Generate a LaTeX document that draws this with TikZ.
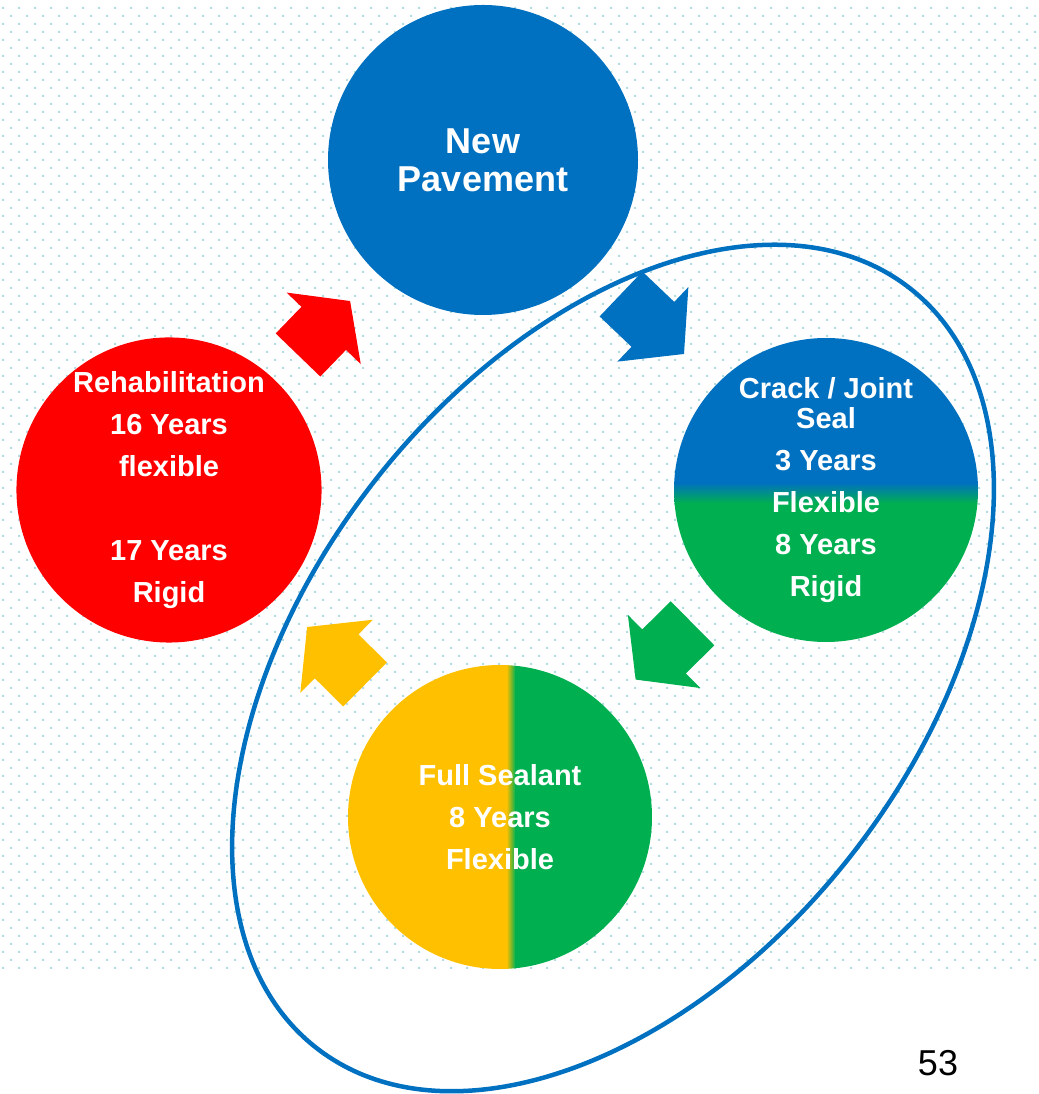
\documentclass[tikz,border=0pt]{standalone}
\usepackage{fontspec}
\setmainfont{Liberation Sans}
\usepackage{xcolor}
\definecolor{ppblue}{HTML}{0070C0}
\definecolor{ppred}{HTML}{FF0000}
\definecolor{ppgreen}{HTML}{00B050}
\definecolor{ppyellow}{HTML}{FFC000}
\definecolor{ppdot}{HTML}{B4DCE0}
\usetikzlibrary{positioning}
\tikzset{
  stage/.style  ={circle, inner sep=0pt, minimum size=304pt, text=white, align=center,
                  font=\bfseries\fontsize{29}{42}\selectfont},
  bigstage/.style={stage, minimum size=310pt, font=\bfseries\fontsize{36}{38}\selectfont},
  loopline/.style={draw=ppblue, line width=4.5pt},
}
\newcommand{\cycarrow}[5]{%
  \fill[#1, shift={#2}, rotate=#3] (0,-31) -- (#4,-31) -- (#4,-51.5) -- ({#4+#5},0)
    -- (#4,51.5) -- (#4,31) -- (0,31) -- cycle;}

\begin{document}
\begin{tikzpicture}[x=1pt, y=1pt]
  \useasboundingbox (0,0) rectangle (1038,1094);
  \fill[ppdot] \foreach \r in {0,...,60} {\foreach \c in {0,...,64} {({2+16*\c},{1085-16*\r}) rectangle ++(2,2)}};
  \fill[ppdot] \foreach \r in {0,...,59} {\foreach \c in {0,...,64} {({10+16*\c},{1077-16*\r}) rectangle ++(2,2)}};

  \node[bigstage, fill=ppblue] (newpave) at (483,934) {New\\Pavement};
  \node[stage, fill=ppred] (rehab) at (169,604) {Rehabilitation\\16 Years\\flexible\\[42pt]17 Years\\Rigid};
  \node[stage, path picture={
      \fill[ppblue] (path picture bounding box.north west) rectangle ([yshift=7pt]path picture bounding box.east);
      \shade[top color=ppblue, bottom color=ppgreen] ([yshift=7.5pt]path picture bounding box.west) rectangle ([yshift=-13.5pt]path picture bounding box.east);
      \fill[ppgreen] ([yshift=-13pt]path picture bounding box.west) rectangle (path picture bounding box.south east);}]
    (crack) at (826,604) {Crack / Joint\\[-12pt]Seal\\3 Years\\Flexible\\8 Years\\Rigid};
  \node[stage, path picture={
      \fill[ppyellow] (path picture bounding box.south west) rectangle ([xshift=7pt]path picture bounding box.north);
      \shade[left color=ppyellow, right color=ppgreen] ([xshift=6.5pt]path picture bounding box.south) rectangle ([xshift=15.5pt]path picture bounding box.north);
      \fill[ppgreen] ([xshift=15pt]path picture bounding box.south) rectangle (path picture bounding box.north east);}]
    (sealant) at (500,277) {Full Sealant\\8 Years\\Flexible};

  \cycarrow{ppred}{(298,739)}{46}{37}{38}
  \cycarrow{ppblue}{(621,800)}{-43.6}{44}{43}
  \cycarrow{ppgreen}{(692.5,470.7)}{224.7}{40}{40}
  \cycarrow{ppyellow}{(365,409.5)}{135.2}{40}{41.6}

  \draw[loopline, rotate around={52:(613,426)}] (613,426) ellipse [x radius=482, y radius=303];

  \node[font=\fontsize{36}{40}\selectfont] (pagenum) at (938,31) {53};
\end{tikzpicture}
\end{document}
